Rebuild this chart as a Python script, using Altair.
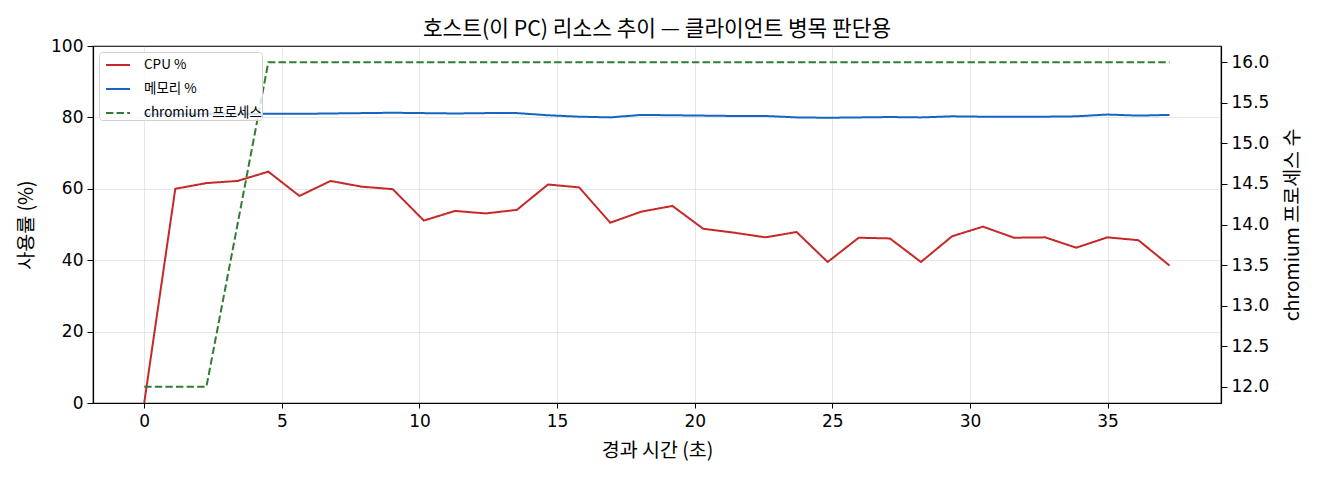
import altair as alt
import pandas as pd

FONT = "Noto Sans CJK KR"
NUM_FONT = "DejaVu Sans"

# elapsed time (s) for each sample
times = [0.00, 1.13, 2.26, 3.39, 4.51, 5.64, 6.77, 7.90, 9.03, 10.16,
         11.29, 12.41, 13.54, 14.67, 15.80, 16.93, 18.06, 19.19, 20.31, 21.44,
         22.57, 23.70, 24.83, 25.96, 27.09, 28.22, 29.35, 30.47, 31.60, 32.73,
         33.86, 34.99, 36.12, 37.25]

cpu_pct = [0.0, 60.0, 61.6, 62.2, 64.8, 58.0, 62.2, 60.6, 59.9, 51.1,
           53.8, 53.1, 54.1, 61.2, 60.4, 50.5, 53.6, 55.2, 48.8, 47.7,
           46.4, 47.9, 39.5, 46.3, 46.1, 39.5, 46.7, 49.4, 46.3, 46.4,
           43.5, 46.4, 45.6, 38.5]

mem_pct = [80.9, 80.9, 81.0, 81.0, 81.0, 81.0, 81.1, 81.2, 81.3, 81.2,
           81.1, 81.2, 81.2, 80.6, 80.2, 80.0, 80.7, 80.6, 80.5, 80.4,
           80.4, 80.0, 79.9, 80.0, 80.1, 80.0, 80.3, 80.2, 80.2, 80.2,
           80.3, 80.8, 80.5, 80.7]

chromium_procs = [12, 12, 12, 14, 16, 16, 16, 16, 16, 16,
                  16, 16, 16, 16, 16, 16, 16, 16, 16, 16,
                  16, 16, 16, 16, 16, 16, 16, 16, 16, 16,
                  16, 16, 16, 16]

series_names = ["CPU %", "메모리 %", "chromium 프로세스"]
series_colors = ["#c62828", "#1565c0", "#2e7d32"]
series_dashes = [[1, 0], [1, 0], [7.4, 3.2]]

x_ticks = [0, 5, 10, 15, 20, 25, 30, 35]
left_ticks = [0, 20, 40, 60, 80, 100]
right_ticks = [12.0, 12.5, 13.0, 13.5, 14.0, 14.5, 15.0, 15.5, 16.0]

pct_df = pd.concat([
    pd.DataFrame({"t": times, "value": cpu_pct, "series": series_names[0]}),
    pd.DataFrame({"t": times, "value": mem_pct, "series": series_names[1]}),
])
proc_df = pd.DataFrame({"t": times, "procs": chromium_procs, "series": series_names[2]})

x_enc = alt.X(
    "t:Q",
    scale=alt.Scale(domain=[-1.86, 39.12], nice=False, zero=False),
    axis=alt.Axis(values=x_ticks, title="경과 시간 (초)", grid=True,
                  tickSize=5, labelPadding=5, titlePadding=12),
)
color_enc = alt.Color(
    "series:N",
    scale=alt.Scale(domain=series_names, range=series_colors),
    legend=alt.Legend(title=None, orient="none", legendX=6, legendY=6),
)
dash_enc = alt.StrokeDash(
    "series:N",
    scale=alt.Scale(domain=series_names, range=series_dashes),
    legend=alt.Legend(title=None, orient="none", legendX=6, legendY=6),
)

pct_lines = alt.Chart(pct_df).mark_line(strokeWidth=2).encode(
    x=x_enc,
    y=alt.Y(
        "value:Q",
        scale=alt.Scale(domain=[0, 100], nice=False),
        axis=alt.Axis(values=left_ticks, title="사용률 (%)", orient="left",
                      grid=True, titlePadding=14),
    ),
    color=color_enc,
    strokeDash=dash_enc,
    detail="series:N",
)

proc_line = alt.Chart(proc_df).mark_line(strokeWidth=2).encode(
    x=x_enc,
    y=alt.Y(
        "procs:Q",
        scale=alt.Scale(domain=[11.8, 16.2], nice=False, zero=False),
        axis=alt.Axis(values=right_ticks, format=".1f", title="chromium 프로세스 수",
                      orient="right", grid=False, titleAngle=270, titlePadding=34),
    ),
    color=color_enc,
    strokeDash=dash_enc,
)

chart = (
    alt.layer(pct_lines, proc_line)
    .resolve_scale(y="independent")
    .properties(
        width=1128,
        height=357,
        autosize=alt.AutoSizeParams(type="none"),
        padding={"left": 85, "top": 38, "right": 91, "bottom": 66},
        title=alt.TitleParams(
            "호스트(이 PC) 리소스 추이 — 클라이언트 병목 판단용",
            font=FONT, fontSize=21.4, fontWeight="normal", color="black",
            anchor="middle", frame="group", offset=8, dy=11,
        ),
    )
    .configure_view(stroke="black", strokeWidth=1.2)
    .configure_axis(
        labelFont=NUM_FONT, labelFontSize=17, labelColor="black",
        titleFont=FONT, titleFontSize=19.5, titleFontWeight="normal", titleColor="black",
        domainColor="black", domainWidth=1.2, tickColor="black", tickSize=6,
        labelPadding=4, gridColor="#b0b0b0", gridOpacity=0.3, gridWidth=1,
    )
    .configure_legend(
        labelFont=FONT, labelFontSize=13.5, labelColor="black",
        symbolType="stroke", symbolSize=576, symbolStrokeWidth=2,
        symbolOffset=6, labelOffset=13, rowPadding=4, padding=0,
        fillColor="rgba(255,255,255,0.8)", strokeColor="#d0d0d0", cornerRadius=3,
    )
)

chart.save("out.html", embed_options={"renderer": "svg", "actions": False})
